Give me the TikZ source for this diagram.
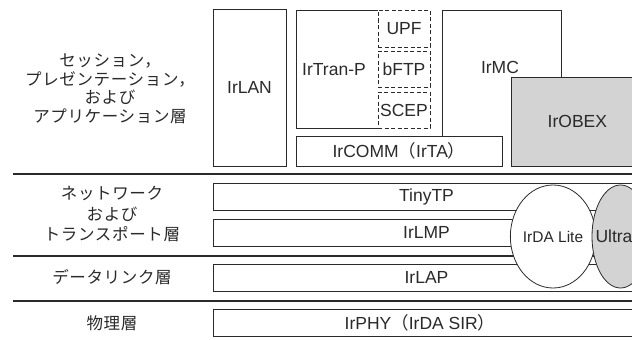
\documentclass[tikz,border=0pt]{standalone}
\usepackage{fontspec}
\setmainfont{Liberation Sans}
\newfontfamily\cjk[LetterSpace=4]{Noto Sans CJK JP}
\newfontfamily\cjkp{Noto Sans CJK JP}
\usetikzlibrary{shapes.geometric}
\definecolor{ln}{HTML}{2A2A2A}
\definecolor{gfill}{HTML}{D3D3D3}
\begin{document}
\begin{tikzpicture}[x=1pt,y=-1pt,
  txt/.style={font=\fontsize{17.5}{20}\selectfont, text=ln},
  box/.style={draw=ln, line width=0.8pt, inner sep=0pt, txt},
  dbox/.style={draw=ln, line width=1pt, dash pattern=on 4pt off 2.5pt, inner sep=0pt, txt},
  wide/.style={box, minimum width=427pt, minimum height=27pt},
  lbl/.style={align=center, inner sep=0pt, text=ln},
  sep/.style={draw=ln, line width=2.6pt},
  oval/.style={ellipse, draw=ln, line width=0.8pt, minimum width=60pt, minimum height=103pt, inner sep=0pt}]
\useasboundingbox (0,0) rectangle (632,340);
\clip (0,0) rectangle (632,340);
\fill[white] (0,0) rectangle (632,340);

% left labels
\node[lbl, font=\cjk\fontsize{16.5}{18.5}\selectfont] (l1) at (110,89) {セッション，\\プレゼンテーション，\\および\\アプリケーション層};
\node[lbl, font=\cjk\fontsize{16.5}{20}\selectfont] (l2) at (112,214) {ネットワーク\\および\\トランスポート層};
\node[lbl, font=\cjk\fontsize{16.5}{18.5}\selectfont] (l3) at (112,277) {データリンク層};
\node[lbl, font=\cjk\fontsize{16.5}{18.5}\selectfont] (l4) at (112,323) {物理層};

% separators
\draw[sep] (13,174) -- (632,174);
\draw[sep] (13,256) -- (632,256);
\draw[sep] (13,301) -- (632,301);

% upper layer
\node[box, minimum width=73pt, minimum height=157pt] (irlan) at (249.5,87.5) {IrLAN};
\draw[ln, line width=0.8pt] (378,10) -- (296,10) -- (296,128) -- (378,128);
\node[lbl, txt] (irtranp) at (334,70) {IrTran-P};
\node[dbox, minimum width=52pt, minimum height=37pt] (upf) at (404,28.5) {UPF};
\node[dbox, minimum width=52pt, minimum height=36pt] (bftp) at (404,69) {bFTP};
\node[dbox, minimum width=52pt, minimum height=36pt] (scep) at (404,110) {SCEP};
\draw[ln, line width=0.8pt] (442,136) -- (442,10) -- (561,10) -- (561,77);
\node[lbl, txt] (irmc) at (500,67) {IrMC};
\node[box, fill=gfill, minimum width=132pt, minimum height=89pt, anchor=north west, text width=132pt, align=center] (irobex) at (511,77) {IrOBEX};
\node[box, minimum width=206pt, minimum height=30pt] (ircomm) at (399,151) {IrCOMM{\cjkp （}IrTA{\cjkp ）}};

% lower layers
\node[wide] (tinytp) at (426.5,196.5) {TinyTP};
\node[wide] (irlmp) at (426.5,232.5) {IrLMP};
\node[wide] (irlap) at (426.5,277.5) {IrLAP};
\node[wide] (irphy) at (426.5,322.5) {};
\node[lbl, txt] (irphyt) at (420,322.5) {IrPHY{\cjkp （}IrDA SIR{\cjkp ）}};

% ellipses
\node[oval, fill=white, font=\fontsize{15.5}{17}\selectfont, text=ln] (lite) at (553,236.5) {IrDA Lite};
\node[oval, fill=gfill, minimum width=57pt] (ultra) at (620.5,236.5) {};
\node[lbl, txt] (ultrat) at (614,236.5) {Ultra};
\end{tikzpicture}
\end{document}
